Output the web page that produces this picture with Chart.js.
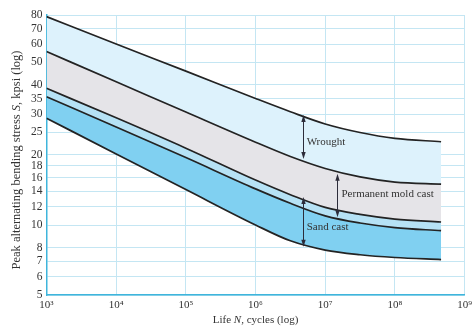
<!DOCTYPE html>
<html><head><meta charset="utf-8">
<script src="https://cdn.jsdelivr.net/npm/chart.js@4.4.1/dist/chart.umd.min.js"></script>
<style>html,body{margin:0;padding:0;background:#fff}</style>
</head><body>
<canvas id="c" width="476" height="328"></canvas>
<script>
// Life N (cycles) at which the curves were read
const lifeN = [1e3, 1e4, 1e5, 1e6, 3.16e6, 1e7, 3.16e7, 1e8, 4.6e8];
// Curve values, kpsi (top to bottom)
const wroughtUpper = [78.7, 60.0, 45.9, 35.0, 30.7, 27.2, 25.0, 23.6, 22.8];
const wroughtLower = [55.7, 41.3, 30.6, 22.7, 19.7, 17.5, 16.1, 15.3, 15.0];
const sandUpper    = [38.7, 28.9, 21.4, 15.6, 13.5, 11.9, 11.1, 10.6, 10.3];
const moldLower    = [35.6, 26.4, 19.5, 14.3, 12.4, 10.95, 10.2, 9.75, 9.45];
const sandLower    = [28.8, 20.2, 14.2, 10.0, 8.55, 7.8, 7.45, 7.25, 7.1];

const yTicks = [5, 6, 7, 8, 10, 12, 14, 16, 18, 20, 25, 30, 35, 40, 50, 60, 70, 80];
const xTicks = [1e3, 1e4, 1e5, 1e6, 1e7, 1e8, 1e9];
const xTickLabels = ['10³', '10⁴', '10⁵', '10⁶', '10⁷', '10⁸', '10⁹'];

// Band annotations (double arrows)
const bandLabels = ['Wrought', 'Permanent mold cast', 'Sand cast'];
const arrowN = [4.74e6, 1.5e7, 4.74e6];
const arrowTop = [29.7, 16.6, 13.2];
const arrowBottom = [19.2, 10.8, 8.07];
const labelS = [22.8, 13.6, 9.8];

const SERIF = '"Liberation Serif", "Times New Roman", serif';
const lineColor = '#232323';
const bandColors = ['#ddf2fc', '#e5e4e8', '#b6e2f5', '#80d0f1'];
const curves = [wroughtUpper, wroughtLower, sandUpper, moldLower, sandLower];

const datasets = curves.map((vals, i) => ({
  data: lifeN.map((n, k) => ({ x: n, y: vals[k] })),
  borderColor: lineColor,
  borderWidth: 1.7,
  pointRadius: 0,
  cubicInterpolationMode: 'monotone',
  fill: i < curves.length - 1 ? '+1' : false,
  backgroundColor: i < curves.length - 1 ? bandColors[i] : 'transparent'
}));

function drawMixed(ctx, parts, size) {
  let w = 0;
  const widths = parts.map(([t, it]) => {
    ctx.font = (it ? 'italic ' : '') + size + 'px ' + SERIF;
    const m = ctx.measureText(t).width; w += m; return m;
  });
  let x = -w / 2;
  parts.forEach(([t, it], i) => {
    ctx.font = (it ? 'italic ' : '') + size + 'px ' + SERIF;
    ctx.fillText(t, x, 0); x += widths[i];
  });
}

const annot = {
  id: 'annot',
  afterDatasetsDraw(chart) {
    const { ctx, scales: { x, y } } = chart;
    ctx.save();
    ctx.strokeStyle = '#2c2c3a'; ctx.fillStyle = '#2c2c3a'; ctx.lineWidth = 1;
    arrowN.forEach((n, i) => {
      const px = Math.round(x.getPixelForValue(n)) + 0.5;
      const y1 = y.getPixelForValue(arrowTop[i]);
      const y2 = y.getPixelForValue(arrowBottom[i]);
      ctx.beginPath(); ctx.moveTo(px, y1 + 3); ctx.lineTo(px, y2 - 3); ctx.stroke();
      ctx.beginPath(); ctx.moveTo(px, y1); ctx.lineTo(px - 2.2, y1 + 7); ctx.lineTo(px + 2.2, y1 + 7); ctx.closePath(); ctx.fill();
      ctx.beginPath(); ctx.moveTo(px, y2); ctx.lineTo(px - 2.2, y2 - 7); ctx.lineTo(px + 2.2, y2 - 7); ctx.closePath(); ctx.fill();
    });
    ctx.fillStyle = '#333';
    ctx.font = '11px ' + SERIF; ctx.textBaseline = 'middle'; ctx.textAlign = 'left';
    arrowN.forEach((n, i) => {
      const px = x.getPixelForValue(n);
      ctx.fillText(bandLabels[i], px + 4, y.getPixelForValue(labelS[i]));
    });
    ctx.restore();
  },
  afterDraw(chart) {
    const { ctx, chartArea: ca } = chart;
    ctx.save();
    ctx.fillStyle = '#333'; ctx.textBaseline = 'middle'; ctx.textAlign = 'left';
    ctx.translate((ca.left + ca.right) / 2, 320);
    drawMixed(ctx, [['Life ', false], ['N', true], [', cycles (log)', false]], 11);
    ctx.restore();
    ctx.save();
    ctx.fillStyle = '#333'; ctx.textBaseline = 'middle'; ctx.textAlign = 'left';
    ctx.translate(17, 160);
    ctx.rotate(-Math.PI / 2);
    drawMixed(ctx, [['Peak alternating bending stress ', false], ['S', true], [', kpsi (log)', false]], 12.5);
    ctx.restore();
  }
};

new Chart(document.getElementById('c'), {
  type: 'line',
  data: { datasets },
  options: {
    responsive: false,
    animation: false,
    events: [],
    layout: { padding: { top: 15, right: 9, left: 0, bottom: 0 } },
    plugins: {
      legend: { display: false },
      tooltip: { enabled: false },
      filler: { drawTime: 'beforeDatasetsDraw' }
    },
    scales: {
      x: {
        type: 'logarithmic', min: 1e3, max: 1e9,
        afterBuildTicks: s => { s.ticks = xTicks.map(v => ({ value: v })); },
        afterFit: s => { s.height = 33; },
        ticks: {
          autoSkip: false, maxRotation: 0, padding: 4, color: '#333',
          font: { family: SERIF, size: 11 },
          callback: (v) => { const i = xTicks.indexOf(v); return i >= 0 ? xTickLabels[i] : ''; }
        },
        grid: { color: '#c4e6f3', lineWidth: 1, drawTicks: false },
        border: { color: '#3fb5dc', width: 1.5 }
      },
      y: {
        type: 'logarithmic', min: 5, max: 80,
        afterBuildTicks: s => { s.ticks = yTicks.map(v => ({ value: v })); },
        afterFit: s => { s.width = 46.5; },
        ticks: {
          autoSkip: false, padding: 4, color: '#333',
          font: { family: SERIF, size: 11.5 },
          callback: (v) => String(v)
        },
        grid: { color: '#c4e6f3', lineWidth: 1, drawTicks: false },
        border: { color: '#3fb5dc', width: 1.5 }
      }
    }
  },
  plugins: [annot]
});
</script>
</body></html>
